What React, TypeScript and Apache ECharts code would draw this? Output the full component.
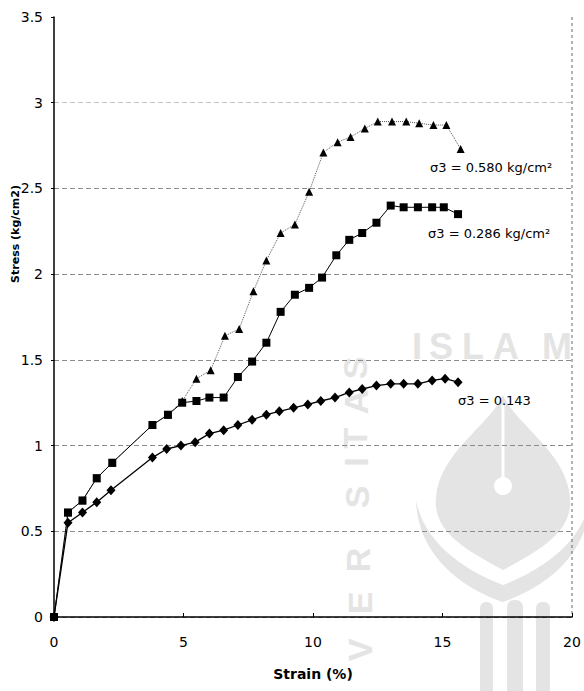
import React, { useEffect, useRef } from "react";
import * as echarts from "echarts";

// σ3 = 0.143 (diamonds)
const strain143 = [0, 0.54, 1.1, 1.65, 2.2, 3.8, 4.35, 4.9, 5.45, 6.0, 6.55, 7.1, 7.65, 8.2, 8.7, 9.25, 9.8, 10.3, 10.85, 11.4, 11.9, 12.45, 13.0, 13.5, 14.05, 14.6, 15.1, 15.6];
const stress143 = [0, 0.55, 0.61, 0.67, 0.74, 0.93, 0.98, 1.0, 1.02, 1.07, 1.09, 1.12, 1.15, 1.18, 1.2, 1.22, 1.24, 1.26, 1.28, 1.31, 1.33, 1.35, 1.36, 1.36, 1.36, 1.38, 1.39, 1.37];

// σ3 = 0.286 (squares)
const strain286 = [0, 0.54, 1.1, 1.65, 2.25, 3.8, 4.4, 4.95, 5.5, 6.0, 6.55, 7.1, 7.65, 8.2, 8.75, 9.3, 9.85, 10.35, 10.9, 11.4, 11.9, 12.45, 13.0, 13.5, 14.05, 14.6, 15.05, 15.6];
const stress286 = [0, 0.61, 0.68, 0.81, 0.9, 1.12, 1.18, 1.25, 1.26, 1.28, 1.28, 1.4, 1.49, 1.6, 1.78, 1.88, 1.92, 1.98, 2.11, 2.2, 2.24, 2.3, 2.4, 2.39, 2.39, 2.39, 2.39, 2.35];

// σ3 = 0.580 (triangles)
const strain580 = [0, 0.54, 1.1, 1.65, 2.25, 3.8, 4.4, 4.95, 5.5, 6.05, 6.6, 7.15, 7.7, 8.2, 8.75, 9.3, 9.85, 10.4, 10.95, 11.45, 12.0, 12.5, 13.05, 13.6, 14.1, 14.65, 15.15, 15.7];
const stress580 = [0, 0.61, 0.68, 0.81, 0.9, 1.12, 1.18, 1.26, 1.39, 1.44, 1.64, 1.68, 1.9, 2.08, 2.24, 2.29, 2.48, 2.71, 2.77, 2.8, 2.85, 2.89, 2.89, 2.89, 2.88, 2.87, 2.87, 2.73];

const xTicks = { min: 0, max: 20, interval: 5 };
const yTicks = { min: 0, max: 3.5, interval: 0.5 };

const labels = {
  s580: "σ3 = 0.580 kg/cm²",
  s286: "σ3 = 0.286 kg/cm²",
  s143: "σ3 = 0.143",
  xName: "Strain (%)",
  yName: "Stress (kg/cm2)",
};

const pairs = (xs: number[], ys: number[]) => xs.map((x, i) => [x, ys[i]]);

const FONT = "'DejaVu Sans', Arial, sans-serif";
const WM = "#e4e4e4";
const GRID = { left: 54, right: 12, top: 17, bottom: 74 };
const W = 584;
const H = 691;

let registered = false;
function registerShapes() {
  if (registered) return;
  const drop =
    "M503 395 C490 425 440 452 436 497 C432 533 470 552 503 570 C536 552 574 533 570 497 C566 452 516 425 503 395 Z";
  echarts.graphic.registerShape("wmDrop", (echarts.graphic as any).extendPath(drop, {}));
  const wings =
    "M416 500 C418 560 468 590 503 602 C538 590 588 560 590 500 C582 543 542 570 503 585 C464 570 424 543 416 500 Z";
  echarts.graphic.registerShape("wmWings", (echarts.graphic as any).extendPath(wings, {}));
  registered = true;
}

export default function App() {
  const ref = useRef<HTMLDivElement>(null);
  useEffect(() => {
    if (!ref.current) return;
    registerShapes();
    const chart = echarts.init(ref.current, undefined, { renderer: "svg" });
    const letters = (items: [string, number, number][], rot: number, size: number) =>
      items.map(([t, x, y]) => ({
        type: "text",
        x,
        y,
        rotation: rot,
        z: -1,
        silent: true,
        style: {
          text: t,
          fill: WM,
          fontSize: size,
          fontWeight: "bold",
          fontFamily: "'Liberation Sans', Arial, sans-serif",
          align: "center",
          verticalAlign: "middle",
        },
      }));
    const option: any = {
      animation: false,
      backgroundColor: "#fff",
      grid: GRID,
      xAxis: {
        type: "value",
        ...xTicks,
        axisLine: { show: true, lineStyle: { color: "#000", width: 1.5 } },
        axisTick: { show: true, length: 4, inside: true, lineStyle: { color: "#000" } },
        axisLabel: { color: "#000", fontSize: 14, fontFamily: FONT, margin: 18 },
        splitLine: { show: false },
        name: labels.xName,
        nameLocation: "middle",
        nameGap: 50,
        nameTextStyle: { color: "#000", fontSize: 14, fontWeight: "bold", fontFamily: FONT },
      },
      yAxis: {
        type: "value",
        ...yTicks,
        axisLine: { show: true, lineStyle: { color: "#000", width: 1.5 } },
        axisTick: { show: true, length: 3, lineStyle: { color: "#000" } },
        axisLabel: { color: "#000", fontSize: 14, fontFamily: FONT, margin: 11 },
        splitLine: {
          show: true,
          showMaxLine: false,
          lineStyle: {
            type: [5, 3],
            width: 1,
            color: ["#8c8c8c", "#8c8c8c", "#8c8c8c", "#8c8c8c", "#8c8c8c", "#8c8c8c", "#c4c4c4", "#fff"],
          },
        },
      },
      series: [
        {
          type: "line",
          name: labels.s580,
          data: pairs(strain580, stress580),
          symbol: "triangle",
          symbolSize: 8,
          itemStyle: { color: "#000" },
          lineStyle: { color: "#555", width: 1, type: "dotted" },
          z: 2,
        },
        {
          type: "line",
          name: labels.s286,
          data: pairs(strain286, stress286),
          symbol: "rect",
          symbolSize: 8,
          itemStyle: { color: "#000" },
          lineStyle: { color: "#000", width: 1 },
          z: 3,
        },
        {
          type: "line",
          name: labels.s143,
          data: pairs(strain143, stress143),
          symbol: "diamond",
          symbolSize: [9, 10],
          itemStyle: { color: "#000" },
          lineStyle: { color: "#000", width: 1.3 },
          z: 4,
        },
      ],
      graphic: [
        ...letters(
          [
            ["I", 417, 346],
            ["S", 441, 346],
            ["L", 473, 346],
            ["A", 506, 346],
            ["M", 557, 346],
          ],
          0,
          36
        ),
        ...letters(
          [
            ["V", 360, 650],
            ["E", 360, 603],
            ["R", 358, 560],
            ["S", 357, 497],
            ["I", 356, 462],
            ["T", 355, 438],
            ["A", 356, 402],
            ["S", 355, 368],
          ],
          Math.PI / 2,
          34
        ),
        { type: "wmWings", z: -1, silent: true, style: { fill: WM } },
        { type: "wmDrop", z: -1, silent: true, style: { fill: WM } },
        { type: "line", z: -1, silent: true, shape: { x1: 503, y1: 405, x2: 503, y2: 480 }, style: { stroke: "#fff", lineWidth: 3 } },
        { type: "circle", z: -1, silent: true, shape: { cx: 503, cy: 486, r: 9 }, style: { fill: "#fff" } },
        { type: "rect", z: -1, silent: true, shape: { x: 480, y: 602, width: 13, height: 100, r: 6 }, style: { fill: WM } },
        { type: "rect", z: -1, silent: true, shape: { x: 507, y: 600, width: 16, height: 100, r: 7 }, style: { fill: WM } },
        { type: "rect", z: -1, silent: true, shape: { x: 536, y: 602, width: 14, height: 100, r: 6 }, style: { fill: WM } },
        // plot-area right border (dashed frame)
        {
          type: "line",
          silent: true,
          shape: { x1: W - GRID.right, y1: GRID.top, x2: W - GRID.right, y2: H - GRID.bottom },
          style: { stroke: "#666", lineWidth: 1, lineDash: [3, 3] },
        },
        {
          type: "text",
          x: 430,
          y: 167,
          style: { text: labels.s580, fill: "#000", fontSize: 13, fontFamily: FONT, align: "left", verticalAlign: "middle" },
        },
        {
          type: "text",
          x: 428,
          y: 233,
          style: { text: labels.s286, fill: "#000", fontSize: 13, fontFamily: FONT, align: "left", verticalAlign: "middle" },
        },
        {
          type: "text",
          x: 458,
          y: 400,
          style: { text: labels.s143, fill: "#000", fontSize: 13, fontFamily: FONT, align: "left", verticalAlign: "middle" },
        },
        {
          type: "text",
          x: 15,
          y: 234,
          rotation: Math.PI / 2,
          style: {
            text: labels.yName,
            fill: "#000",
            fontSize: 11,
            fontWeight: "bold",
            fontFamily: FONT,
            align: "center",
            verticalAlign: "middle",
          },
        },
      ],
    };
    chart.setOption(option);
    return () => chart.dispose();
  }, []);
  return (
    <div
      ref={ref}
      style={{ position: "fixed", left: 0, top: 0, width: W, height: H, background: "#fff" }}
    />
  );
}
